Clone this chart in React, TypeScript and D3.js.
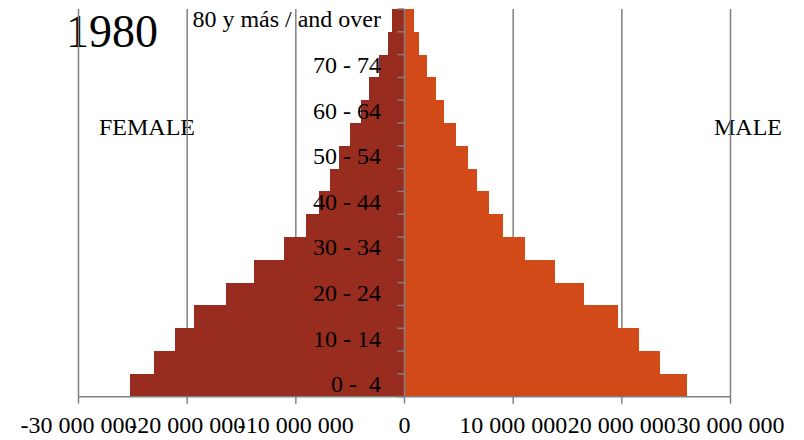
import React from "react";
import * as d3 from "d3";

const ageGroups = [
  "0 -  4", "5 - 9", "10 - 14", "15 - 19", "20 - 24", "25 - 29", "30 - 34", "35 - 39",
  "40 - 44", "45 - 49", "50 - 54", "55 - 59", "60 - 64", "65 - 69", "70 - 74", "75 - 79",
  "80 y más / and over",
];
const female = [
  25.26, 23.09, 21.12, 19.35, 16.43, 13.89, 11.13, 9.11,
  7.91, 6.84, 6.0, 5.0, 3.98, 3.25, 2.39, 1.56, 1.16,
].map((v) => v * 1e6);
const male = [
  26.0, 23.55, 21.56, 19.63, 16.5, 13.86, 11.1, 9.1,
  7.79, 6.66, 5.83, 4.73, 3.65, 2.92, 2.06, 1.29, 0.89,
].map((v) => v * 1e6);
const xTicks = [-30e6, -20e6, -10e6, 0, 10e6, 20e6, 30e6];
const xTickLabels = ["-30 000 000", "-20 000 000", "-10 000 000", "0", "10 000 000", "20 000 000", "30 000 000"];
const labelledGroups = ["0 -  4", "10 - 14", "20 - 24", "30 - 34", "40 - 44", "50 - 54", "60 - 64", "70 - 74", "80 y más / and over"];

const W = 804;
const H = 440;
const FONT = "'Liberation Serif', 'Times New Roman', serif";
const FEMALE_COLOR = "#982c1f";
const MALE_COLOR = "#d24a17";
const GRID = "#808080";

export default function App() {
  const x = d3.scaleLinear().domain([-30e6, 30e6]).range([78.5, 730.5]);
  const y = d3
    .scaleBand<string>()
    .domain(ageGroups)
    .range([396.7, 9])
    .padding(0);
  const bw = y.bandwidth();
  const x0 = x(0);
  const bottom = 396.7;
  const top = 9;

  return (
    <svg
      width={W}
      height={H}
      style={{ position: "absolute", left: 0, top: 0, background: "#fff" }}
      fontFamily={FONT}
    >
      {/* titles (behind gridlines) */}
      <text x={66} y={47} fontSize={46} fill="#000">1980</text>
      <text x={99} y={135} fontSize={24} fill="#000">FEMALE</text>
      <text x={714} y={135} fontSize={24} fill="#000">MALE</text>

      {/* gridlines */}
      {xTicks.map((t) => (
        <line key={"g" + t} x1={x(t)} x2={x(t)} y1={top} y2={bottom} stroke={GRID} strokeWidth={1.5} />
      ))}

      {/* bars */}
      <g shapeRendering="crispEdges">
        {ageGroups.map((g, i) => (
          <rect
            key={"f" + g}
            x={x(-female[i])}
            y={y(g)!}
            width={x0 - x(-female[i])}
            height={bw + 0.6}
            fill={FEMALE_COLOR}
          />
        ))}
        {ageGroups.map((g, i) => (
          <rect
            key={"m" + g}
            x={x0}
            y={y(g)!}
            width={x(male[i]) - x0}
            height={bw + 0.6}
            fill={MALE_COLOR}
          />
        ))}
      </g>

      {/* central axis with ticks */}
      <line x1={x0} x2={x0} y1={top} y2={bottom} stroke={GRID} strokeWidth={1.5} />
      {ageGroups.map((g) => (
        <line key={"t" + g} x1={x0 - 7} x2={x0} y1={y(g)!} y2={y(g)!} stroke={GRID} strokeWidth={1.5} />
      ))}
      <line x1={x0 - 7} x2={x0} y1={bottom} y2={bottom} stroke={GRID} strokeWidth={1.5} />

      {/* bottom axis */}
      <line x1={x(-30e6)} x2={x(30e6)} y1={bottom} y2={bottom} stroke={GRID} strokeWidth={1.5} />
      {xTicks.map((t) => (
        <line key={"bt" + t} x1={x(t)} x2={x(t)} y1={bottom} y2={bottom + 7} stroke={GRID} strokeWidth={1.5} />
      ))}
      {xTicks.map((t, i) => (
        <text key={"bl" + t} x={x(t)} y={433} fontSize={24} textAnchor="middle" fill="#000">
          {xTickLabels[i]}
        </text>
      ))}

      {/* category labels */}
      {labelledGroups.map((g) => (
        <text
          key={"cl" + g}
          x={381}
          y={y(g)! + bw / 2 + 7}
          fontSize={24}
          textAnchor="end"
          fill="#000"
          style={{ whiteSpace: "pre" }}
        >
          {g}
        </text>
      ))}
    </svg>
  );
}
